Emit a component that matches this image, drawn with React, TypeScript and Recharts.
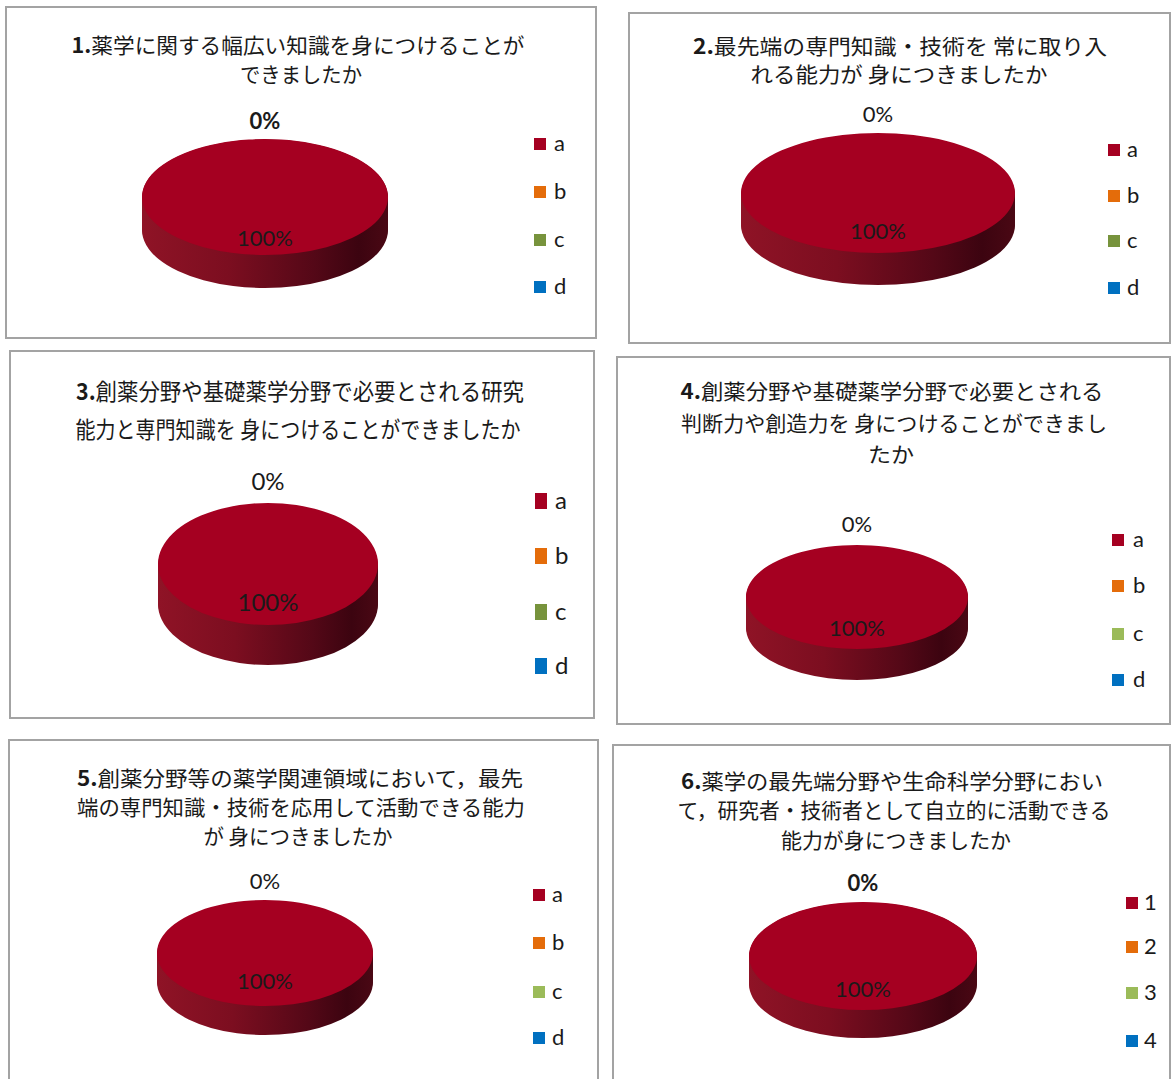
import React from 'react';
import { PieChart, Pie, Cell, Legend } from 'recharts';

// ---------- data ----------
const choicesAD = ['a', 'b', 'c', 'd'];
const choices14 = ['1', '2', '3', '4'];

const q1Values = [100, 0, 0, 0];
const q2Values = [100, 0, 0, 0];
const q3Values = [100, 0, 0, 0];
const q4Values = [100, 0, 0, 0];
const q5Values = [100, 0, 0, 0];
const q6Values = [100, 0, 0, 0];

const q1Num = '1.';
const q1Lines = ['薬学に関する幅広い知識を身につけることが', 'できましたか'];
const q2Num = '2.';
const q2Lines = ['最先端の専門知識・技術を 常に取り入', 'れる能力が 身につきましたか'];
const q3Num = '3.';
const q3Lines = ['創薬分野や基礎薬学分野で必要とされる研究', '能力と専門知識を 身につけることができましたか'];
const q4Num = '4.';
const q4Lines = ['創薬分野や基礎薬学分野で必要とされる', '判断力や創造力を 身につけることができまし', 'たか'];
const q5Num = '5.';
const q5Lines = ['創薬分野等の薬学関連領域において，最先', '端の専門知識・技術を応用して活動できる能力', 'が 身につきましたか'];
const q6Num = '6.';
const q6Lines = ['薬学の最先端分野や生命科学分野におい', 'て，研究者・技術者として自立的に活動できる', '能力が身につきましたか'];

const paletteOlive = ['#a50021', '#e46c0a', '#77933c', '#0070c0'];
const paletteLight = ['#a50021', '#e46c0a', '#9bbb59', '#0070c0'];

const questions = [
  { num: q1Num, lines: q1Lines, cats: choicesAD, values: q1Values, colors: paletteOlive },
  { num: q2Num, lines: q2Lines, cats: choicesAD, values: q2Values, colors: paletteOlive },
  { num: q3Num, lines: q3Lines, cats: choicesAD, values: q3Values, colors: paletteOlive },
  { num: q4Num, lines: q4Lines, cats: choicesAD, values: q4Values, colors: paletteLight },
  { num: q5Num, lines: q5Lines, cats: choicesAD, values: q5Values, colors: paletteLight },
  { num: q6Num, lines: q6Lines, cats: choices14, values: q6Values, colors: paletteLight },
];

// ---------- layout (positions / sizes / styles) ----------
type TitleLine = { y: number; x: number; w: number };
type Layout = {
  left: number; top: number; w: number; h: number;
  cx: number; cy: number; rx: number; ry: number; depth: number;
  zeroGap: number; inFactor: number; labelSize: number; zeroWeight: number;
  title: TitleLine[]; titleSize: number;
  sqX: number; textX: number; rows: number[]; sqW: number; sqH: number; legendSize: number;
  showBottom: boolean;
};

const layouts: Layout[] = [
  {
    left: 5, top: 6, w: 592, h: 333,
    cx: 260, cy: 191, rx: 123, ry: 58, depth: 33,
    zeroGap: 19, inFactor: 0.69, labelSize: 22, zeroWeight: 700,
    title: [{ y: 38, x: 293, w: 453 }, { y: 67, x: 296, w: 122 }], titleSize: 21,
    sqX: 529, textX: 549, rows: [137.5, 186, 234, 281], sqW: 12, sqH: 12, legendSize: 22,
    showBottom: true,
  },
  {
    left: 628, top: 12, w: 543, h: 332,
    cx: 250, cy: 181, rx: 137, ry: 60, depth: 32,
    zeroGap: 20, inFactor: 0.63, labelSize: 22, zeroWeight: 400,
    title: [{ y: 33, x: 272, w: 414 }, { y: 61, x: 271, w: 297 }], titleSize: 21,
    sqX: 480, textX: 499, rows: [138, 184, 229, 276], sqW: 12, sqH: 12, legendSize: 22,
    showBottom: true,
  },
  {
    left: 9, top: 350, w: 586, h: 369,
    cx: 259, cy: 214, rx: 110, ry: 61, depth: 40,
    zeroGap: 23, inFactor: 0.62, labelSize: 24, zeroWeight: 400,
    title: [{ y: 40, x: 291, w: 448 }, { y: 78, x: 289, w: 445 }], titleSize: 23,
    sqX: 526, textX: 546, rows: [151, 206, 262, 316], sqW: 12, sqH: 16, legendSize: 24,
    showBottom: true,
  },
  {
    left: 616, top: 356, w: 555, h: 369,
    cx: 241, cy: 241, rx: 111, ry: 52, depth: 31,
    zeroGap: 22, inFactor: 0.58, labelSize: 22, zeroWeight: 400,
    title: [{ y: 34, x: 276, w: 423 }, { y: 66, x: 278, w: 426 }, { y: 97, x: 275, w: 46 }], titleSize: 21,
    sqX: 496, textX: 517, rows: [184, 230, 278, 324], sqW: 12, sqH: 12, legendSize: 22,
    showBottom: true,
  },
  {
    left: 8, top: 739, w: 591, h: 351,
    cx: 257, cy: 214, rx: 108, ry: 53, depth: 29,
    zeroGap: 20, inFactor: 0.51, labelSize: 22, zeroWeight: 400,
    title: [{ y: 38, x: 292, w: 446 }, { y: 67, x: 293, w: 448 }, { y: 96, x: 290, w: 189 }], titleSize: 21,
    sqX: 525, textX: 544, rows: [156, 204, 253, 299], sqW: 12, sqH: 12, legendSize: 22,
    showBottom: false,
  },
  {
    left: 612, top: 744, w: 559, h: 346,
    cx: 251, cy: 212, rx: 114, ry: 54, depth: 28,
    zeroGap: 20, inFactor: 0.6, labelSize: 22, zeroWeight: 700,
    title: [{ y: 36, x: 280, w: 422 }, { y: 65, x: 282, w: 433 }, { y: 95, x: 284, w: 230 }], titleSize: 21,
    sqX: 514, textX: 532, rows: [159, 203, 249, 297], sqW: 12, sqH: 12, legendSize: 22,
    showBottom: false,
  },
];

const LABEL_FONT = "Lato, 'Open Sans', sans-serif";
const TITLE_FONT = "'Noto Sans CJK JP', sans-serif";

function makeLabel(L: Layout) {
  const ratio = L.ry / L.rx;
  return (props: any) => {
    const { cx, cy, outerRadius, midAngle, percent, index } = props;
    const rad = (-midAngle * Math.PI) / 180;
    const pct = Math.round((percent || 0) * 100);
    if (pct === 0) {
      if (index !== 1) return null;
      const x = cx + outerRadius * Math.cos(rad);
      const y = cy + outerRadius * ratio * Math.sin(rad) - L.zeroGap;
      return (
        <text x={x} y={y} textAnchor="middle" dominantBaseline="central" fontFamily={LABEL_FONT}
          fontSize={L.labelSize} fontWeight={L.zeroWeight} fill="#1a1a1a">{`${pct}%`}</text>
      );
    }
    const x = cx + outerRadius * L.inFactor * Math.cos(rad);
    const y = cy + outerRadius * ratio * L.inFactor * Math.sin(rad);
    return (
      <text x={x} y={y} textAnchor="middle" dominantBaseline="central" fontFamily={LABEL_FONT}
        fontSize={L.labelSize} fill="#1a1a1a">{`${pct}%`}</text>
    );
  };
}

function LegendBox(props: any) {
  const { payload, L } = props;
  const items = (payload || []).filter((p: any) => p.type !== 'none' && !String(p.color).startsWith('url'));
  const seen = new Set<string>();
  const uniq = items.filter((p: any) => {
    const k = String(p.value);
    if (seen.has(k)) return false;
    seen.add(k);
    return true;
  });
  return (
    <div style={{ position: 'relative', width: L.w, height: L.h, pointerEvents: 'none' }}>
      {uniq.map((p: any, i: number) => (
        <React.Fragment key={i}>
          <div style={{ position: 'absolute', left: L.sqX, top: L.rows[i] - L.sqH / 2, width: L.sqW, height: L.sqH, background: p.color }} />
          <div style={{ position: 'absolute', left: L.textX, top: L.rows[i], transform: 'translateY(-56%)', fontFamily: LABEL_FONT, fontSize: L.legendSize, lineHeight: 1, color: '#1a1a1a', whiteSpace: 'nowrap' }}>{p.value}</div>
        </React.Fragment>
      ))}
    </div>
  );
}

function Panel({ q, L, k }: { q: any; L: Layout; k: number }) {
  const rows = q.cats.map((name: string, i: number) => ({ name, value: q.values[i] }));
  const offsets: number[] = [];
  for (let d = L.depth; d > 0; d -= 2.5) offsets.push(d);
  const gid = `sideGrad${k}`;
  return (
    <div className={`pie3d-${k}`} style={{ position: 'absolute', left: L.left, top: L.top, width: L.w, height: L.h, background: '#fff' }}>
      <div style={{ position: 'absolute', left: 0, top: 0 }}>
        <PieChart width={L.w} height={L.h} margin={{ top: 0, right: 0, bottom: 0, left: 0 }}>
          <defs>
            <linearGradient id={gid} x1="0" y1="0" x2="1" y2="0">
              <stop offset="0%" stopColor="#8f1326" />
              <stop offset="35%" stopColor="#7c0e20" />
              <stop offset="70%" stopColor="#540817" />
              <stop offset="88%" stopColor="#3c0410" />
              <stop offset="100%" stopColor="#4a0814" />
            </linearGradient>
          </defs>
          {offsets.map((d) => (
            <Pie key={`side${d}`} data={rows} dataKey="value" nameKey="name" cx={L.cx} cy={L.cy + d}
              outerRadius={L.rx} startAngle={90} endAngle={-270} stroke="none" legendType="none"
              label={false} labelLine={false} isAnimationActive={false}>
              {rows.map((_: any, i: number) => <Cell key={i} fill={`url(#${gid})`} stroke="none" />)}
            </Pie>
          ))}
          <Pie data={rows} dataKey="value" nameKey="name" cx={L.cx} cy={L.cy}
            outerRadius={L.rx} startAngle={90} endAngle={-270} stroke="none"
            label={makeLabel(L)} labelLine={false} isAnimationActive={false}>
            {rows.map((_: any, i: number) => <Cell key={i} fill={q.colors[i]} stroke="none" />)}
          </Pie>
          <Legend content={(p: any) => <LegendBox {...p} L={L} />}
            wrapperStyle={{ left: 0, top: 0, right: 'auto', bottom: 'auto', width: L.w, height: L.h }} />
        </PieChart>
      </div>
      <svg width={L.w} height={L.h} style={{ position: 'absolute', left: 0, top: 0, pointerEvents: 'none' }}>
        {q.lines.map((line: string, i: number) => {
          const T = L.title[i];
          return (
            <text key={i} x={T.x} y={T.y} textAnchor="middle" dominantBaseline="central"
              fontFamily={TITLE_FONT} fontSize={L.titleSize} fill="#1a1a1a"
              textLength={T.w} lengthAdjust="spacingAndGlyphs">
              {i === 0 ? <tspan fontWeight={700}>{q.num}</tspan> : null}
              {line}
            </text>
          );
        })}
      </svg>
      <div style={{
        position: 'absolute', left: 0, top: 0, width: L.w, height: L.h, boxSizing: 'border-box',
        border: '2px solid #a3a3a3', borderBottom: L.showBottom ? '2px solid #a3a3a3' : 'none', pointerEvents: 'none',
      }} />
    </div>
  );
}

export default function App() {
  const css = layouts
    .map((L, k) => `.pie3d-${k} .recharts-sector{transform-box:fill-box;transform-origin:50% 50%;transform:scaleY(${(L.ry / L.rx).toFixed(4)});}`)
    .join('\n');
  return (
    <div style={{ position: 'absolute', left: 0, top: 0, width: 1171, height: 1079, overflow: 'hidden', background: '#fff' }}>
      <style>{css}</style>
      {questions.map((q, k) => <Panel key={k} q={q} L={layouts[k]} k={k} />)}
    </div>
  );
}
